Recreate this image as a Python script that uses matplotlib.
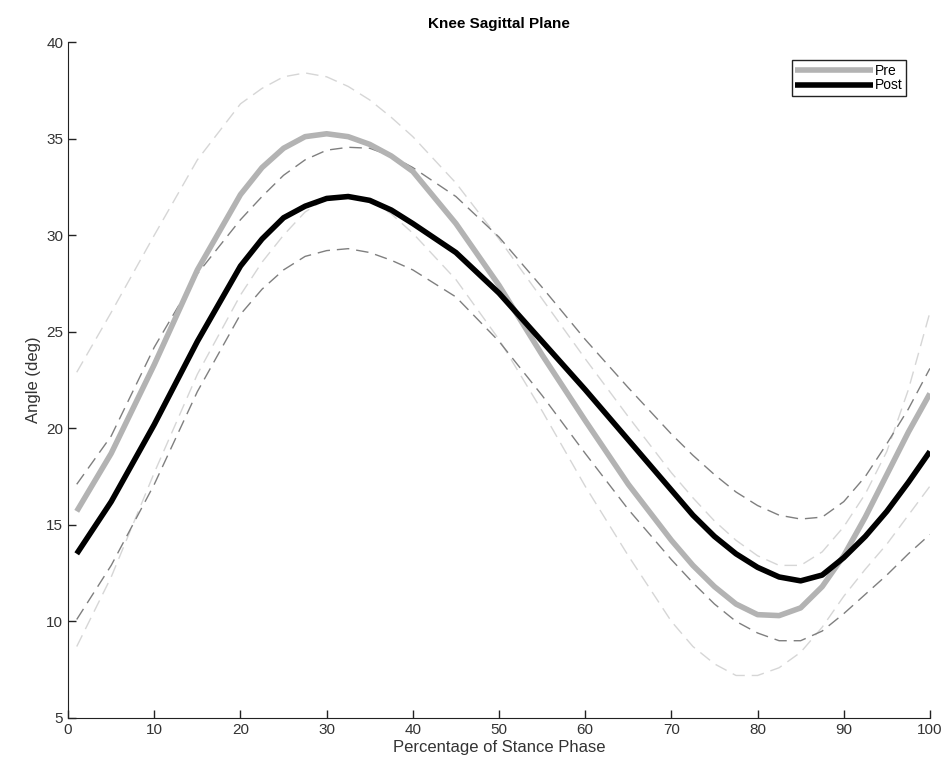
import matplotlib.pyplot as plt

plt.rcParams['font.family'] = ['Liberation Sans', 'DejaVu Sans']

# percentage of stance phase
pct = [1, 5, 10, 15, 20, 22.5, 25, 27.5, 30, 32.5, 35, 37.5, 40, 45, 50, 55, 60, 65,
       70, 72.5, 75, 77.5, 80, 82.5, 85, 87.5, 90, 92.5, 95, 97.5, 100]

# knee sagittal angle (deg), mean and +/- band
pre_mean = [15.7, 18.7, 23.3, 28.2, 32.1, 33.5, 34.5, 35.1, 35.25, 35.1, 34.7, 34.1, 33.3, 30.6,
            27.4, 23.8, 20.4, 17.1, 14.2, 12.9, 11.8, 10.9, 10.35, 10.3, 10.7, 11.8, 13.4,
            15.4, 17.6, 19.8, 21.8]
pre_upper = [22.9, 26.0, 30.0, 33.9, 36.8, 37.6, 38.2, 38.4, 38.2, 37.7, 37.0, 36.1, 35.1, 32.7,
             29.8, 26.7, 23.6, 20.6, 17.7, 16.4, 15.2, 14.2, 13.4, 12.9, 12.9, 13.6, 14.9,
             16.6, 18.8, 22.0, 26.0]
pre_lower = [8.7, 12.3, 17.7, 22.8, 26.9, 28.6, 30.0, 31.2, 31.9, 32.1, 31.8, 31.1, 30.1, 27.7,
             24.6, 20.9, 17.0, 13.4, 10.0, 8.7, 7.8, 7.2, 7.2, 7.6, 8.4, 9.7, 11.3,
             12.7, 14.0, 15.5, 17.0]

post_mean = [13.5, 16.2, 20.2, 24.5, 28.4, 29.8, 30.9, 31.5, 31.9, 32.0, 31.8, 31.3, 30.6, 29.1,
             27.0, 24.5, 22.0, 19.4, 16.8, 15.5, 14.4, 13.5, 12.8, 12.3, 12.1, 12.4, 13.3,
             14.4, 15.7, 17.2, 18.8]
post_upper = [17.1, 19.6, 24.2, 28.0, 30.8, 32.0, 33.1, 33.9, 34.4, 34.55, 34.5, 34.1, 33.5, 32.0,
              29.9, 27.3, 24.6, 22.1, 19.7, 18.6, 17.6, 16.7, 16.0, 15.5, 15.3, 15.4, 16.2,
              17.5, 19.2, 21.0, 23.1]
post_lower = [10.1, 12.9, 17.1, 21.9, 25.9, 27.2, 28.2, 28.9, 29.2, 29.3, 29.1, 28.7, 28.2, 26.8,
              24.5, 21.7, 18.7, 15.8, 13.2, 12.0, 10.9, 10.0, 9.4, 9.0, 9.0, 9.5, 10.4,
              11.4, 12.4, 13.5, 14.5]

pre_color = '#b3b3b3'
post_color = '#000000'
pre_band = '#d6d6d6'
post_band = '#7f7f7f'

fig = plt.figure(figsize=(9.46, 7.74), dpi=100)
ax = fig.add_axes([0.072, 0.0724, 0.911, 0.8733])

# bands first
for band in (pre_upper, pre_lower):
    ax.plot(pct, band, color=pre_band, lw=1.0, dashes=(9, 5), zorder=2)
for band in (post_upper, post_lower):
    ax.plot(pct, band, color=post_band, lw=1.0, dashes=(9, 5), zorder=2)

ax.plot(pct, pre_mean, color=pre_color, lw=4.0, label='Pre', zorder=3,
        solid_capstyle='butt', solid_joinstyle='round')
ax.plot(pct, post_mean, color=post_color, lw=4.0, label='Post', zorder=4,
        solid_capstyle='butt', solid_joinstyle='round')

ax.set_xlim(0, 100)
ax.set_ylim(5, 40)
ax.set_xticks(range(0, 101, 10))
ax.set_yticks(range(5, 41, 5))

ax.spines['top'].set_visible(False)
ax.spines['right'].set_visible(False)
ax.spines['left'].set_color('#222222')
ax.spines['bottom'].set_color('#222222')
ax.tick_params(direction='in', length=6, width=1, labelsize=11,
               colors='#222222', labelcolor='#333333')

ax.set_xlabel('Percentage of Stance Phase', fontsize=12, color='#333333', labelpad=2)
ax.set_ylabel('Angle (deg)', fontsize=12, color='#333333', labelpad=4)
ax.set_title('Knee Sagittal Plane', fontsize=11, fontweight='bold', pad=10)

leg = ax.legend(loc='upper right', bbox_to_anchor=(0.972, 0.973), fontsize=10,
                handlelength=5.6, handletextpad=0.1, borderpad=0.25,
                labelspacing=0.05, fancybox=False, framealpha=1,
                edgecolor='#222222', borderaxespad=0)
leg.get_frame().set_linewidth(1.0)

fig.savefig('out.png', dpi=100)
